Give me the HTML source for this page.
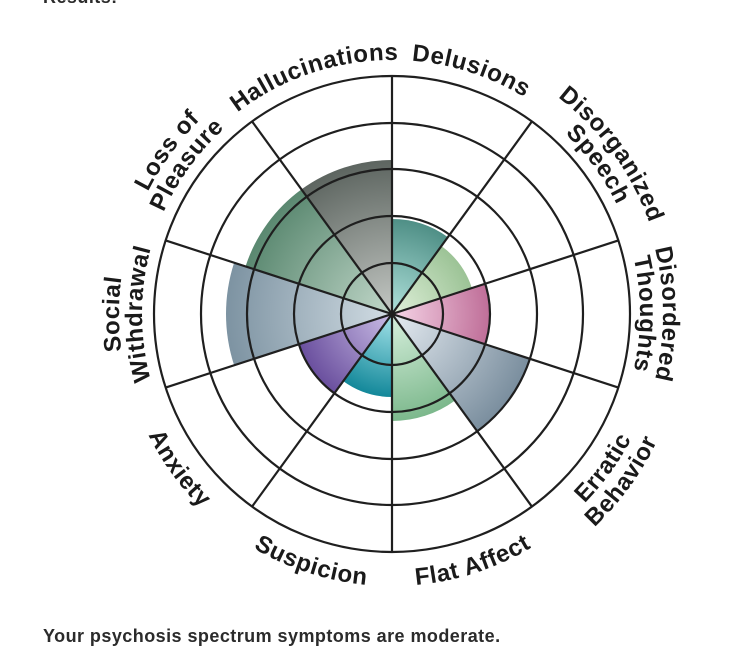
<!DOCTYPE html>
<html><head><meta charset="utf-8"><style>
html,body{margin:0;padding:0;background:#fff;width:742px;height:657px;overflow:hidden;position:relative;font-family:"Liberation Sans",sans-serif}
.t{position:absolute;left:43px;font-weight:bold;font-size:18px;color:#2b2b2b;letter-spacing:0.45px}
svg text{font-family:"Liberation Sans",sans-serif;font-weight:bold;font-size:24px;fill:#1a1a1a;letter-spacing:0.6px}
</style></head><body>
<div class="t" style="top:-13px">Results:</div>
<div class="t" style="top:626px">Your psychosis spectrum symptoms are moderate.</div>
<svg id="s" width="742" height="657" style="position:absolute;left:0;top:0">
<defs id="d"></defs>
<g id="w"></g>
<g id="g" fill="none" stroke="#1f1f1f" stroke-width="2.2"></g>
<path id="p0" fill="none"/><path id="p1" fill="none"/><path id="p2a" fill="none"/><path id="p2b" fill="none"/>
<path id="p3a" fill="none"/><path id="p3b" fill="none"/><path id="p4a" fill="none"/><path id="p4b" fill="none"/>
<path id="p5" fill="none"/><path id="p6" fill="none"/><path id="p7" fill="none"/>
<path id="p8a" fill="none"/><path id="p8b" fill="none"/><path id="p9a" fill="none"/><path id="p9b" fill="none"/>
<text><textPath href="#p0" startOffset="50%" text-anchor="middle">Hallucinations</textPath></text>
<text><textPath href="#p1" startOffset="50%" text-anchor="middle">Delusions</textPath></text>
<text><textPath href="#p2a" startOffset="50%" text-anchor="middle">Disorganized</textPath></text>
<text><textPath href="#p2b" startOffset="50%" text-anchor="middle">Speech</textPath></text>
<text><textPath href="#p3a" startOffset="50%" text-anchor="middle">Disordered</textPath></text>
<text><textPath href="#p3b" startOffset="50%" text-anchor="middle">Thoughts</textPath></text>
<text><textPath href="#p4a" startOffset="50%" text-anchor="middle">Erratic</textPath></text>
<text><textPath href="#p4b" startOffset="50%" text-anchor="middle">Behavior</textPath></text>
<text><textPath href="#p5" startOffset="50%" text-anchor="middle">Flat Affect</textPath></text>
<text><textPath href="#p6" startOffset="50%" text-anchor="middle">Suspicion</textPath></text>
<text><textPath href="#p7" startOffset="50%" text-anchor="middle">Anxiety</textPath></text>
<text><textPath href="#p8a" startOffset="50%" text-anchor="middle">Social</textPath></text>
<text><textPath href="#p8b" startOffset="50%" text-anchor="middle">Withdrawal</textPath></text>
<text><textPath href="#p9a" startOffset="50%" text-anchor="middle">Loss of</textPath></text>
<text><textPath href="#p9b" startOffset="50%" text-anchor="middle">Pleasure</textPath></text>
</svg>
<script>
var cx=392,cy=314,NS="http://www.w3.org/2000/svg";
function pt(a,r){a=a*Math.PI/180;return [cx+r*Math.sin(a),cy-r*Math.cos(a)];}
function arc(id,a,r,cw,span){span=span||45;var s,e;if(cw){s=pt(a-span,r);e=pt(a+span,r);}else{s=pt(a+span,r);e=pt(a-span,r);}
document.getElementById(id).setAttribute("d","M"+s[0]+" "+s[1]+" A"+r+" "+r+" 0 0 "+(cw?1:0)+" "+e[0]+" "+e[1]);}
var W=[[-18,154,"#5d6560","#c4c8c4"],[18,95,"#4f8f86","#b0e2dc"],[54,84,"#9cc396","#e0f0da"],[90,98,"#bf6e98","#f6d6e8"],[126,145,"#7a8e9e","#e6ecf2"],[162,107,"#7cb88c","#d8f0de"],[198,83,"#13889a","#a5e4ea"],[234,98,"#6a4f9e","#cabde6"],[270,166,"#7d93a2","#d2dde4"],[306,154,"#5a8870","#c2d8ca"]];
var defs=document.getElementById("d"),w=document.getElementById("w");
W.forEach(function(x,i){var g=document.createElementNS(NS,"radialGradient");g.setAttribute("id","r"+i);g.setAttribute("gradientUnits","userSpaceOnUse");g.setAttribute("cx",cx);g.setAttribute("cy",cy);g.setAttribute("r",x[1]);
g.innerHTML='<stop offset="0" stop-color="'+x[3]+'"/><stop offset="1" stop-color="'+x[2]+'"/>';defs.appendChild(g);
var s=pt(x[0]-18,x[1]),e=pt(x[0]+18,x[1]);var p=document.createElementNS(NS,"path");
p.setAttribute("d","M"+cx+" "+cy+" L"+s[0]+" "+s[1]+" A"+x[1]+" "+x[1]+" 0 0 1 "+e[0]+" "+e[1]+" Z");p.setAttribute("fill","url(#r"+i+")");w.appendChild(p);});
var g=document.getElementById("g"),h="";
[51,98,145,191,238].forEach(function(r){h+='<circle cx="'+cx+'" cy="'+cy+'" r="'+r+'"/>';});
for(var a=0;a<360;a+=36){var e=pt(a,238);h+='<line x1="'+cx+'" y1="'+cy+'" x2="'+e[0]+'" y2="'+e[1]+'"/>';}
g.innerHTML=h;
arc("p0",-18,254,1);arc("p1",18,254,1);
arc("p2a",54,273,1);arc("p2b",54,250,1);
arc("p3a",90,271,1);arc("p3b",90,248,1);
arc("p4a",126,270,0);arc("p4b",126,294,0);
arc("p5",162,272,0);arc("p6",198,272,0);arc("p7",234,272,0);
arc("p8a",270,273,1);arc("p8b",270,250,1);
arc("p9a",306,273,1);arc("p9b",306,250,1);
</script>
</body></html>
